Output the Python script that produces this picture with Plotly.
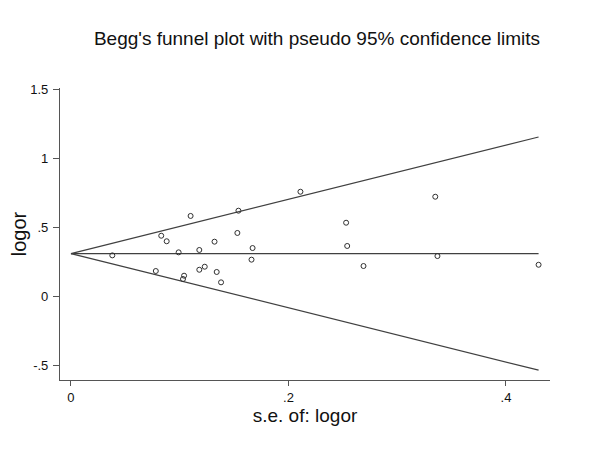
import plotly.graph_objects as go

se = [0.038, 0.078, 0.083, 0.088, 0.099, 0.104, 0.103, 0.110, 0.118, 0.118,
      0.123, 0.132, 0.134, 0.138, 0.153, 0.154, 0.166, 0.167, 0.211, 0.253,
      0.254, 0.269, 0.335, 0.337, 0.430]
logor = [0.299, 0.186, 0.441, 0.401, 0.321, 0.152, 0.128, 0.584, 0.338, 0.195,
         0.217, 0.398, 0.179, 0.104, 0.461, 0.622, 0.268, 0.352, 0.759, 0.535,
         0.367, 0.222, 0.723, 0.294, 0.231]
theta = 0.312
se_max = 0.430
x_ticks = [0, 0.2, 0.4]
x_tick_labels = ["0", ".2", ".4"]
y_ticks = [-0.5, 0, 0.5, 1, 1.5]
y_tick_labels = ["-.5", "0", ".5", "1", "1.5"]

line_col = "#404040"
fig = go.Figure()
lx = [0, se_max]
fig.add_trace(go.Scatter(x=lx, y=[theta, theta + 1.96 * se_max], mode="lines",
                         line=dict(color=line_col, width=1.2), hoverinfo="skip"))
fig.add_trace(go.Scatter(x=lx, y=[theta, theta - 1.96 * se_max], mode="lines",
                         line=dict(color=line_col, width=1.2), hoverinfo="skip"))
fig.add_trace(go.Scatter(x=lx, y=[theta, theta], mode="lines",
                         line=dict(color=line_col, width=1.2), hoverinfo="skip"))
fig.add_trace(go.Scatter(x=se, y=logor, mode="markers",
                         marker=dict(symbol="circle-open", size=5, color="#303030",
                                     line=dict(width=1, color="#303030"))))

font = "Liberation Sans, Arial, sans-serif"
fig.update_layout(
    width=600, height=476, showlegend=False,
    paper_bgcolor="white", plot_bgcolor="white",
    margin=dict(l=52, r=58, t=80, b=104),
    title=dict(text="Begg's funnel plot with pseudo 95% confidence limits",
               x=0.515, xanchor="center", yref="container", y=0.937, yanchor="middle",
               font=dict(family=font, size=19, color="#111111")),
    font=dict(family=font, color="#111111"),
)
fig.update_xaxes(range=[-0.0101, 0.4405], tickvals=x_ticks, ticktext=x_tick_labels,
                 showgrid=False, zeroline=False, showline=True, linecolor="#555555",
                 linewidth=1.2, ticks="outside", ticklen=5, tickcolor="#555555",
                 tickfont=dict(size=13, family=font), automargin=False,
                 title=dict(text="s.e. of: logor", font=dict(size=19, family=font), standoff=0))
fig.update_yaxes(range=[-0.602, 1.509], tickvals=y_ticks, ticktext=y_tick_labels,
                 showgrid=False, zeroline=False, showline=True, linecolor="#555555",
                 linewidth=1.2, ticks="outside", ticklen=6, tickcolor="#555555",
                 tickfont=dict(size=13, family=font), automargin=False, ticklabelstandoff=2,
                 title=dict(text="logor", font=dict(size=20, family=font), standoff=3))

fig.write_html("out.html")
